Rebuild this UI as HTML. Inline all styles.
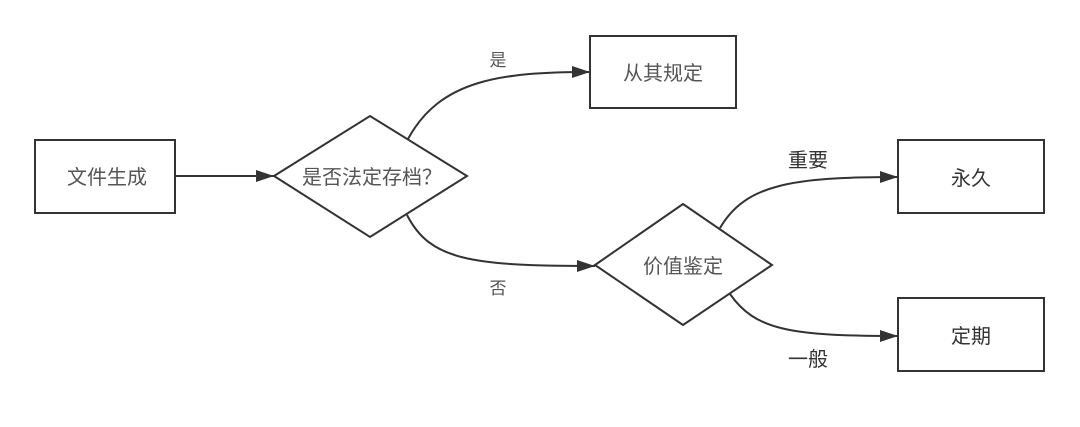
<!DOCTYPE html>
<html><head><meta charset="utf-8"><style>
body{margin:0;background:#fff;}
text{font-family:"Liberation Sans","Noto Sans CJK SC",sans-serif;}
</style></head><body>
<svg width="1080" height="422" viewBox="0 0 1080 422" xmlns="http://www.w3.org/2000/svg">
<defs>
<marker id="b" markerWidth="18" markerHeight="12" refX="18" refY="6" orient="auto" markerUnits="userSpaceOnUse"><path d="M0,0 L18,6 L0,12 z" fill="#333"/></marker></defs>
<g fill="none" stroke="#333" stroke-width="2">
<rect x="35" y="140" width="140" height="73"/>
<polygon points="274,176 370,116 467,176 370,237"/>
<rect x="590" y="36" width="146" height="72"/>
<polygon points="595,265 683,204 772,265 683,325"/>
<rect x="898" y="140" width="146" height="73"/>
<rect x="898" y="298" width="146" height="73"/>
<path d="M175,176 L274,176" marker-end="url(#b)"/>
<path d="M408,139 C440,80 500,72 590,72" marker-end="url(#b)"/>
<path d="M407,215 C430,260 470,266 595,266" marker-end="url(#b)"/>
<path d="M720,228 C745,185 790,177 898,177" marker-end="url(#b)"/>
<path d="M730,294 C755,330 790,336 898,336" marker-end="url(#b)"/>
</g>
<g font-size="20" text-anchor="middle" fill="#555">
<text x="107" y="184">文件生成</text>
<text x="372" y="184">是否法定存档？</text>
<text x="663" y="80">从其规定</text>
<text x="683" y="273">价值鉴定</text>
<text x="498" y="66" font-size="17">是</text>
<text x="498" y="294" font-size="17">否</text>
</g>
<g font-size="20" text-anchor="middle" fill="#333">
<text x="971" y="185">永久</text>
<text x="971" y="343">定期</text>
<text x="808" y="167">重要</text>
<text x="808" y="366">一般</text>
</g>
</svg>
</body></html>
